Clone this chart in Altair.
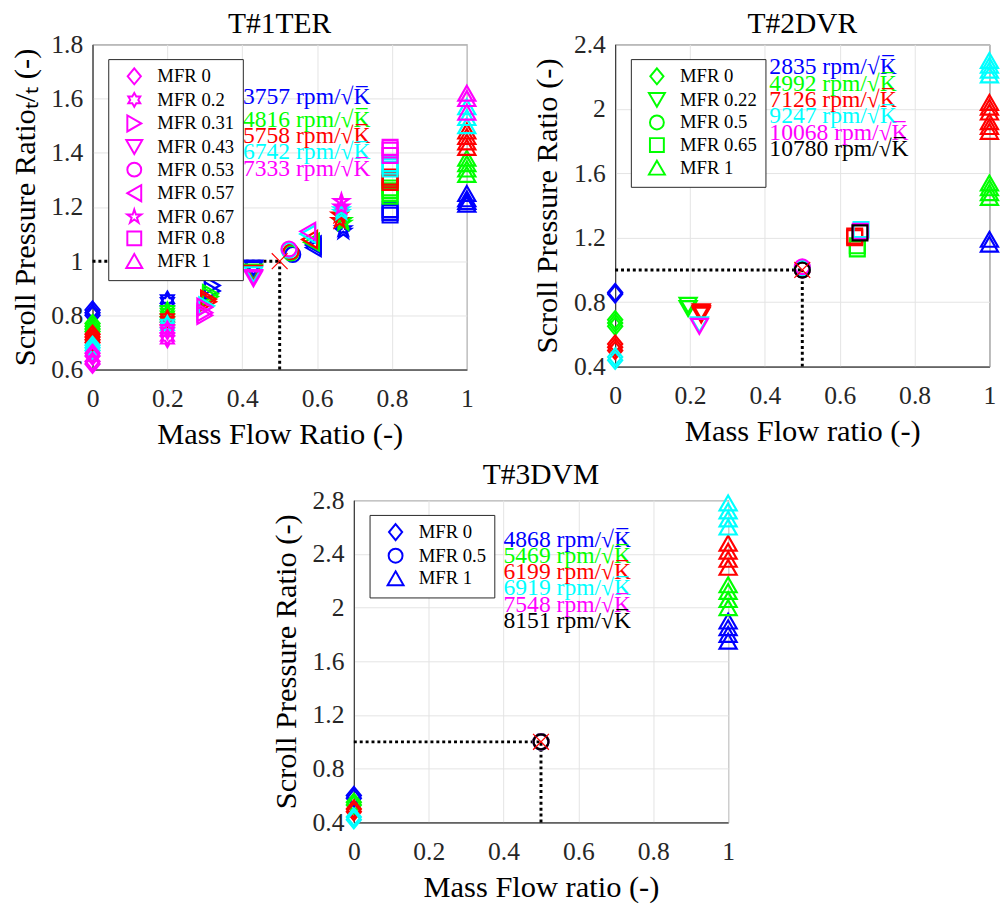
import altair as alt
import pandas as pd

FONT = "Liberation Serif"
BLUE, GREEN, RED, CYAN, MAGENTA, BLACK = "#0000ff", "#00ff00", "#ff0000", "#00ffff", "#ff00ff", "#000000"

HEXAGRAM = ("M0,-1L0.289,-0.5L0.866,-0.5L0.577,0L0.866,0.5L0.289,0.5L0,1L-0.289,0.5"
            "L-0.866,0.5L-0.577,0L-0.866,-0.5L-0.289,-0.5Z")
PENTAGRAM = ("M0,-1.05L0.236,-0.324L0.999,-0.324L0.381,0.124L0.617,0.849L0,0.401"
             "L-0.617,0.849L-0.381,0.124L-0.999,-0.324L-0.236,-0.324Z")
TRI_UP = "M0,-1L1.15,1L-1.15,1Z"
TRI_DOWN = "M0,1L1.15,-1L-1.15,-1Z"
TRI_RIGHT = "M1,0L-1,-1.15L-1,1.15Z"
TRI_LEFT = "M-1,0L1,-1.15L1,1.15Z"
DIAMOND = "M0,-1.15L0.95,0L0,1.15L-0.95,0Z"
XMARK = "M-1,-1L1,1M-1,1L1,-1"

# ---------------- T#1TER ----------------
t1_speeds = ["3757", "4816", "5758", "6742", "7333"]
t1_colors = [BLUE, GREEN, RED, CYAN, MAGENTA]
t1_mfr = ["MFR 0", "MFR 0.2", "MFR 0.31", "MFR 0.43", "MFR 0.53", "MFR 0.57", "MFR 0.67", "MFR 0.8", "MFR 1"]
t1_shapes = [DIAMOND, HEXAGRAM, TRI_RIGHT, TRI_DOWN, "circle", TRI_LEFT, PENTAGRAM, "square", TRI_UP]

t1_mfr0_x = [0, 0, 0, 0, 0]
t1_mfr0_y = [[0.80, 0.81, 0.82], [0.74, 0.75, 0.76, 0.77], [0.70, 0.71, 0.72, 0.73], [0.67, 0.68, 0.69], [0.62, 0.63, 0.65, 0.66]]
t1_mfr02_x = [0.2, 0.2, 0.2, 0.2, 0.2]
t1_mfr02_y = [[0.85, 0.86], [0.80, 0.81, 0.82], [0.78, 0.79], [0.76, 0.77], [0.71, 0.72, 0.74, 0.75]]
t1_mfr031_x = [0.32, 0.315, 0.31, 0.305, 0.30]
t1_mfr031_y = [[0.89, 0.91], [0.87, 0.88], [0.85, 0.86], [0.835], [0.80, 0.81, 0.83]]
t1_mfr043_x = [0.43, 0.43, 0.43, 0.43, 0.43]
t1_mfr043_y = [[0.97, 0.975], [0.96], [0.955], [0.95], [0.935, 0.94]]
t1_mfr053_x = [0.535, 0.53, 0.53, 0.525, 0.525]
t1_mfr053_y = [[1.025], [1.03], [1.035], [1.04], [1.045]]
t1_mfr057_x = [0.59, 0.585, 0.58, 0.575, 0.575]
t1_mfr057_y = [[1.05, 1.06], [1.07], [1.08], [1.10], [1.11]]
t1_mfr067_x = [0.67, 0.67, 0.66, 0.665, 0.665]
t1_mfr067_y = [[1.11, 1.12], [1.14, 1.15], [1.15, 1.17], [1.18, 1.19], [1.20, 1.22]]
t1_mfr08_x = [0.795, 0.795, 0.795, 0.795, 0.795]
t1_mfr08_y = [[1.17, 1.18, 1.19], [1.24, 1.25, 1.26, 1.27], [1.29, 1.30, 1.31], [1.34, 1.35, 1.36], [1.39, 1.41, 1.42]]
t1_mfr1_x = [1, 1, 1, 1, 1]
t1_mfr1_y = [[1.21, 1.22, 1.23, 1.25], [1.32, 1.34, 1.36, 1.38], [1.42, 1.44, 1.46, 1.48], [1.50, 1.53, 1.57], [1.55, 1.60, 1.62]]
t1_label_y = [1.604, 1.522, 1.462, 1.401, 1.341]

# ---------------- T#2DVR ----------------
t2_speeds = ["2835", "4992", "7126", "9247", "10068", "10780"]
t2_colors = [BLUE, GREEN, RED, CYAN, MAGENTA, BLACK]
t2_mfr = ["MFR 0", "MFR 0.22", "MFR 0.5", "MFR 0.65", "MFR 1"]
t2_shapes = [DIAMOND, TRI_DOWN, "circle", "square", TRI_UP]

t2_mfr0_x = [0, 0, 0, 0, 0, 0]
t2_mfr0_y = [[0.85, 0.86], [0.65, 0.67, 0.69], [0.50, 0.52, 0.54], [0.44, 0.46], [], []]
t2_mfr022_x = [0.22, 0.195, 0.23, 0.225, 0.225, 0.225]
t2_mfr022_y = [[], [0.76, 0.78], [0.72, 0.73, 0.74], [0.66], [0.65], []]
t2_mfr05_x = [0.5, 0.5, 0.5, 0.5, 0.5, 0.5]
t2_mfr05_y = [[1.0], [1.01], [1.0], [1.01], [1.02], [1.0]]
t2_mfr065_x = [0.65, 0.647, 0.64, 0.657, 0.655, 0.654]
t2_mfr065_y = [[], [1.13, 1.15], [1.20, 1.21], [1.25], [1.24], [1.23]]
t2_mfr1_x = [1, 1, 1, 1, 1, 1]
t2_mfr1_y = [[1.16, 1.19], [1.45, 1.48, 1.51, 1.54], [1.86, 1.89, 1.92, 1.98, 2.01, 2.04], [2.21, 2.24, 2.27, 2.30], [], []]
t2_label_y = [2.258, 2.156, 2.055, 1.954, 1.852, 1.750]

# ---------------- T#3DVM ----------------
t3_speeds = ["4868", "5469", "6199", "6919", "7548", "8151"]
t3_colors = [BLUE, GREEN, RED, CYAN, MAGENTA, BLACK]
t3_mfr = ["MFR 0", "MFR 0.5", "MFR 1"]
t3_shapes = [DIAMOND, "circle", TRI_UP]

t3_mfr0_x = [0, 0, 0, 0, 0, 0]
t3_mfr0_y = [[0.58, 0.60], [0.53, 0.55], [0.48, 0.50], [0.42, 0.44], [], []]
t3_mfr05_x = [0.5, 0.5, 0.5, 0.5, 0.5, 0.5]
t3_mfr05_y = [[1.0], [1.0], [1.0], [1.0], [1.0], [1.0]]
t3_mfr1_x = [1, 1, 1, 1, 1, 1]
t3_mfr1_y = [[1.75, 1.80, 1.85, 1.90], [2.00, 2.06, 2.12, 2.17], [2.30, 2.36, 2.42, 2.48], [2.60, 2.66, 2.72, 2.78], [], []]
t3_label_y = [2.503, 2.383, 2.266, 2.144, 2.022, 1.902]

X_TICKS = [0, 0.2, 0.4, 0.6, 0.8, 1]
t1_yticks = [0.6, 0.8, 1.0, 1.2, 1.4, 1.6, 1.8]
t2_yticks = [0.4, 0.8, 1.2, 1.6, 2.0, 2.4]
t3_yticks = [0.4, 0.8, 1.2, 1.6, 2.0, 2.4, 2.8]

PW = 381


def panel(title, xtitle, ytitle, yticks, speeds, colors, mfr, shapes, series, lab_x, lab_y, height, lab_sym, toff):
    ymin, ymax = yticks[0], yticks[-1]
    rows = []
    for si, sp in enumerate(speeds):
        for mi, (xs, ys) in enumerate(series):
            for v in ys[si]:
                rows.append({"x": xs[si], "y": v, "speed": sp, "mfr": mfr[mi]})
    df = pd.DataFrame(rows)

    xs_ = alt.Scale(domain=[0, 1], nice=False, zero=False)
    ys_ = alt.Scale(domain=[ymin, ymax], nice=False, zero=False)
    common = dict(labelFontSize=26, labelColor="#262626", titleFontSize=31, titleColor="#000000",
                  titleFontWeight="normal", grid=True, gridColor="#e3e3e3", domainColor="#262626",
                  ticks=False, labelFlush=False, labelOverlap=False, format="~g")
    xaxis = alt.Axis(values=X_TICKS, title=xtitle, labelPadding=17, titlePadding=8, **common)
    yaxis = alt.Axis(values=yticks, title=ytitle, labelPadding=10, titlePadding=10, **common)
    X = lambda f: alt.X(f, type="quantitative", scale=xs_, axis=xaxis)
    Y = lambda f: alt.Y(f, type="quantitative", scale=ys_, axis=yaxis)
    cscale = alt.Scale(domain=speeds, range=colors)

    hline = alt.Chart(pd.DataFrame({"x": [0], "x2": [0.5], "y": [1.0]})).mark_rule(
        color="black", strokeWidth=3, strokeDash=[3, 3]).encode(x=X("x"), x2="x2", y=Y("y"))
    vline = alt.Chart(pd.DataFrame({"x": [0.5], "y": [ymin], "y2": [1.0]})).mark_rule(
        color="black", strokeWidth=3, strokeDash=[3, 3]).encode(x=X("x"), y=Y("y"), y2="y2")

    pts = alt.Chart(df).mark_point(filled=False, strokeWidth=2.2, size=230, opacity=1).encode(
        x=X("x"), y=Y("y"),
        color=alt.Color("speed:N", scale=cscale, legend=None),
        shape=alt.Shape("mfr:N", scale=alt.Scale(domain=mfr, range=shapes),
                        legend=alt.Legend(title=None, orient="none", legendX=16, legendY=15,
                                          fillColor="white", strokeColor="#262626", padding=8,
                                          symbolStrokeColor=lab_sym, symbolFillColor="transparent",
                                          symbolStrokeWidth=2, symbolSize=200, labelFont=FONT,
                                          labelFontSize=19, labelColor="black", rowPadding=0,
                                          labelOffset=14, symbolOffset=9)),
    )
    xm = alt.Chart(pd.DataFrame({"x": [0.5], "y": [1.0]})).mark_point(
        shape=XMARK, color=RED, size=260, strokeWidth=1.2, filled=False, opacity=1).encode(x=X("x"), y=Y("y"))

    lab = alt.Chart(pd.DataFrame({"x": [lab_x] * len(speeds), "y": lab_y, "speed": speeds,
                                  "text": [s + " rpm/\u221aK\u0305" for s in speeds]})).mark_text(
        align="left", baseline="middle", fontSize=24, font=FONT).encode(
        x=X("x"), y=Y("y"), text="text:N",
        color=alt.Color("speed:N", scale=cscale, legend=None))

    return alt.layer(hline, vline, pts, xm, lab).properties(
        width=PW, height=height,
        title=alt.TitleParams(text=title, fontSize=30, fontWeight="normal", font=FONT, color="black",
                              offset=toff, frame="group"),
    )


p1 = panel("T#1TER", "Mass Flow Ratio (-)", "Scroll Pressure Ratio\u209c/\u209c (-)", t1_yticks, t1_speeds, t1_colors,
           t1_mfr, t1_shapes,
           [(t1_mfr0_x, t1_mfr0_y), (t1_mfr02_x, t1_mfr02_y), (t1_mfr031_x, t1_mfr031_y), (t1_mfr043_x, t1_mfr043_y),
            (t1_mfr053_x, t1_mfr053_y), (t1_mfr057_x, t1_mfr057_y), (t1_mfr067_x, t1_mfr067_y),
            (t1_mfr08_x, t1_mfr08_y), (t1_mfr1_x, t1_mfr1_y)],
           0.402, t1_label_y, 331, MAGENTA, -7)
p2 = panel("T#2DVR", "Mass Flow ratio (-)", "Scroll Pressure Ratio (-)", t2_yticks, t2_speeds, t2_colors,
           t2_mfr, t2_shapes,
           [(t2_mfr0_x, t2_mfr0_y), (t2_mfr022_x, t2_mfr022_y), (t2_mfr05_x, t2_mfr05_y),
            (t2_mfr065_x, t2_mfr065_y), (t2_mfr1_x, t2_mfr1_y)],
           0.412, t2_label_y, 328, GREEN, -7)
p3 = panel("T#3DVM", "Mass Flow ratio (-)", "Scroll Pressure Ratio (-)", t3_yticks, t3_speeds, t3_colors,
           t3_mfr, t3_shapes,
           [(t3_mfr0_x, t3_mfr0_y), (t3_mfr05_x, t3_mfr05_y), (t3_mfr1_x, t3_mfr1_y)],
           0.40, t3_label_y, 328, BLUE, -3)

top = alt.hconcat(p1, p2, spacing=52).resolve_scale(color="independent", shape="independent")
chart = alt.vconcat(top, p3, spacing=10, center=True).resolve_scale(
    color="independent", shape="independent").properties(
    padding={"left": 9, "top": 0, "right": 0, "bottom": 0}
).configure_view(stroke="#262626", strokeWidth=1).configure_axis(
    labelFont=FONT, titleFont=FONT).configure_title(font=FONT).configure_legend(labelFont=FONT).configure_text(font=FONT)

chart.save("out.html", embed_options={"renderer": "svg", "actions": False})
